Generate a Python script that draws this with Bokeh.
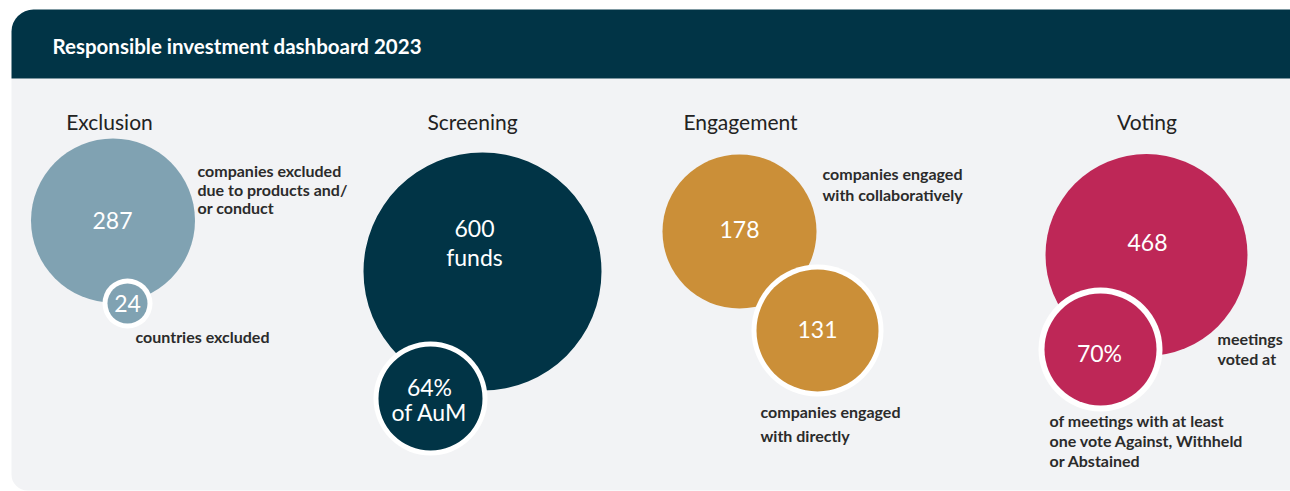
from bokeh.plotting import figure
from bokeh.models import Range1d, ColumnDataSource
from bokeh.core.properties import value
from bokeh.embed import file_html
from bokeh.resources import INLINE

# ---------------- data ----------------
TITLE = "Responsible investment dashboard 2023"
categories = ["Exclusion", "Screening", "Engagement", "Voting"]
main_values = ["287", "600", "178", "468"]
main_units = ["", "funds", "", ""]
sub_values = ["24", "64%", "131", "70%"]
sub_units = ["", "of AuM", "", ""]
main_notes = [
    ["companies excluded", "due to products and/", "or conduct"],
    [],
    ["companies engaged", "with collaboratively"],
    ["meetings", "voted at"],
]
sub_notes = [
    ["countries excluded"],
    [],
    ["companies engaged", "with directly"],
    ["of meetings with at least", "one vote Against, Withheld", "or Abstained"],
]
colors = ["#80a2b2", "#013446", "#cb8f38", "#be2757"]

# ---------------- layout (screen pixels of the page) ----------------
W, H = 1290, 491
def X(px): return px
def Y(py): return H - py

title_x = [109, 472, 740, 1146.5]
title_y = 121
main_cx = [112.5, 482, 739, 1146]
main_cy = [220, 271, 231, 254.5]
main_r = [82, 119, 77, 101]
sub_cx = [127, 430, 817, 1100]
sub_cy = [303, 398, 330, 349]
sub_r = [20, 52, 61, 56]
ring = [5, 5, 5, 6]
main_txt = [(112, 220), (474, 242), (739, 229), (1147, 242)]
sub_txt = [(127, 303), (429, 398.5), (817, 329), (1099, 352)]
main_txt_gap = [0, 28, 0, 0]
sub_txt_gap = [0, 25, 0, 0]
main_note_pos = [(197, 170, 18.5), None, (822, 173, 21), (1217, 338, 19.5)]
sub_note_pos = [(135, 336, 0), None, (760, 411, 24), (1049, 420, 20)]

DARK = "#013446"
PANEL = "#f2f3f5"
TEXT = "#2b2b2b"
FONT = value("Lato")

p = figure(width=W, height=H, output_backend="svg", toolbar_location=None,
           x_range=Range1d(0, W), y_range=Range1d(0, H), min_border=0)
p.axis.visible = False
p.grid.visible = False
p.outline_line_color = None
p.background_fill_color = "white"
p.border_fill_color = "white"

# panel body and header
p.quad(left=[X(11)], right=[X(1300)], top=[Y(78)], bottom=[Y(490)],
       fill_color=PANEL, line_color=None, border_radius=(0, 0, 0, 16))
p.quad(left=[X(11)], right=[X(1300)], top=[Y(9)], bottom=[Y(78)],
       fill_color=DARK, line_color=None, border_radius=(22, 0, 0, 0))
p.text(x=[X(52)], y=[Y(45)], text=[TITLE], text_font=FONT, text_font_size="20.5px",
       text_font_style="bold", text_color="white", text_baseline="middle", text_align="left")

# section titles
p.text(x=[X(v) for v in title_x], y=[Y(title_y)] * 4, text=categories, text_font=FONT,
       text_font_size="21px", text_color="#222222", text_baseline="middle", text_align="center")

# main circles
p.circle(x=[X(v) for v in main_cx], y=[Y(v) for v in main_cy], radius=main_r,
         fill_color=colors, line_color=None)
# sub circles with white ring
p.circle(x=[X(v) for v in sub_cx], y=[Y(v) for v in sub_cy],
         radius=[r + w for r, w in zip(sub_r, ring)], fill_color="white", line_color=None)
p.circle(x=[X(v) for v in sub_cx], y=[Y(v) for v in sub_cy], radius=sub_r,
         fill_color=colors, line_color=None)

# numbers inside circles
def centre_lines(vals, units, pos, gaps):
    xs, ys, ts = [], [], []
    for v, u, (cx, cy), g in zip(vals, units, pos, gaps):
        lines = [v] + ([u] if u else [])
        n = len(lines)
        for i, t in enumerate(lines):
            xs.append(X(cx)); ys.append(Y(cy - (n - 1) * g / 2 + i * g)); ts.append(t)
    return dict(x=xs, y=ys, t=ts)

for d in (centre_lines(main_values, main_units, main_txt, main_txt_gap),
          centre_lines(sub_values, sub_units, sub_txt, sub_txt_gap)):
    p.text(x="x", y="y", text="t", source=ColumnDataSource(d), text_font=FONT,
           text_font_size="23px", text_color="white", text_baseline="middle", text_align="center")

# notes
xs, ys, ts = [], [], []
for notes, pos in ((main_notes, main_note_pos), (sub_notes, sub_note_pos)):
    for lines, ps in zip(notes, pos):
        if not ps:
            continue
        x0, y0, g = ps
        for i, t in enumerate(lines):
            xs.append(X(x0)); ys.append(Y(y0 + i * g)); ts.append(t)
p.text(x="x", y="y", text="t", source=ColumnDataSource(dict(x=xs, y=ys, t=ts)), text_font=FONT,
       text_font_size="16px", text_font_style="bold", text_color=TEXT,
       text_baseline="middle", text_align="left")

open("out.html", "w").write(file_html(p, INLINE))
